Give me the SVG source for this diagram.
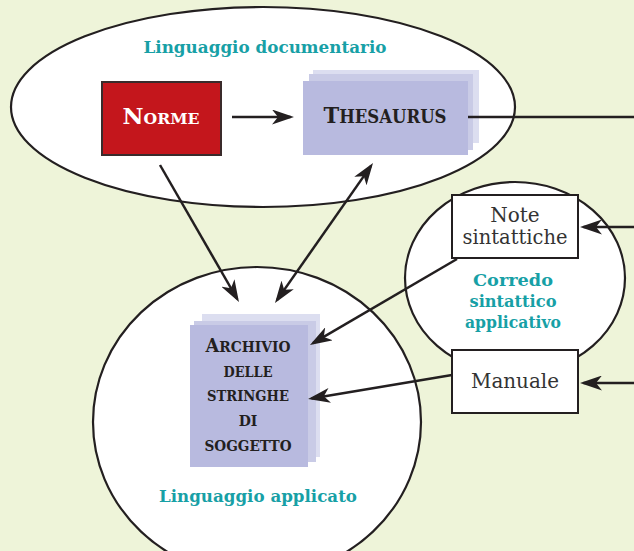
<svg xmlns="http://www.w3.org/2000/svg" width="634" height="551" viewBox="0 0 634 551">
<style>
.ell{fill:#ffffff;stroke:#231f20;stroke-width:2.2}
.lbl{font-family:"DejaVu Serif","Liberation Serif",serif;font-weight:bold;fill:#17a0a6;text-anchor:middle}
.cap{font-family:"DejaVu Serif","Liberation Serif",serif;font-weight:bold;fill:#231f20;text-anchor:middle}
.reg{font-family:"DejaVu Serif","Liberation Serif",serif;font-size:20px;fill:#333333;text-anchor:middle}
.box{fill:#ffffff;stroke:#231f20;stroke-width:2}
.l1{fill:#dcdef0}.l2{fill:#c9cbe6}.l3{fill:#b8badf}
.con{fill:none;stroke:#231f20;stroke-width:2.5}
</style>
<defs>
<marker id="ah" viewBox="0 0 22 15" refX="18.5" refY="7.5" markerWidth="22" markerHeight="15" markerUnits="userSpaceOnUse" orient="auto-start-reverse">
<path d="M0,0 L22,7.5 L0,15 L6,7.5 z" fill="#231f20"/>
</marker>
</defs>
<rect x="0" y="0" width="634" height="551" fill="#eef4d9"/>

<g id="linguaggio-documentario">
<ellipse class="ell" cx="263" cy="107" rx="252" ry="100"/>
<text class="lbl" x="265" y="53" font-size="17" textLength="243" lengthAdjust="spacingAndGlyphs">Linguaggio documentario</text>
</g>

<g id="linguaggio-applicato">
<ellipse class="ell" cx="257" cy="422" rx="164" ry="155"/>
<text class="lbl" x="258" y="502" font-size="17" textLength="198" lengthAdjust="spacingAndGlyphs">Linguaggio applicato</text>
</g>

<g id="corredo-sintattico">
<ellipse class="ell" cx="515" cy="278" rx="110" ry="96"/>
<text class="lbl" x="513" y="286" font-size="17" textLength="80" lengthAdjust="spacingAndGlyphs">Corredo</text>
<text class="lbl" x="513" y="307" font-size="17" textLength="87" lengthAdjust="spacingAndGlyphs">sintattico</text>
<text class="lbl" x="513" y="328" font-size="17" textLength="96" lengthAdjust="spacingAndGlyphs">applicativo</text>
</g>

<g id="norme">
<rect x="102" y="82" width="119" height="73" fill="#c4161c" stroke="#3a2b2b" stroke-width="2"/>
<text class="cap" x="161" y="124" style="fill:#ffffff" textLength="77" lengthAdjust="spacingAndGlyphs"><tspan font-size="22">N</tspan><tspan font-size="15">ORME</tspan></text>
</g>

<g id="thesaurus">
<rect class="l1" x="313" y="70" width="166" height="73"/>
<rect class="l2" x="309" y="74" width="164" height="76"/>
<rect class="l3" x="303" y="81" width="165" height="74"/>
<text class="cap" x="385" y="123" textLength="123" lengthAdjust="spacingAndGlyphs"><tspan font-size="23">T</tspan><tspan font-size="18">HESAURUS</tspan></text>
</g>

<g id="archivio">
<rect class="l1" x="202" y="314" width="118" height="143"/>
<rect class="l2" x="194" y="321" width="122" height="141"/>
<rect class="l3" x="190" y="325" width="118" height="142"/>
<text class="cap" x="248" y="352" textLength="85" lengthAdjust="spacingAndGlyphs"><tspan font-size="18">A</tspan><tspan font-size="14">RCHIVIO</tspan></text>
<text class="cap" x="248" y="377" font-size="14" textLength="49" lengthAdjust="spacingAndGlyphs">DELLE</text>
<text class="cap" x="248" y="401" font-size="14" textLength="82" lengthAdjust="spacingAndGlyphs">STRINGHE</text>
<text class="cap" x="248" y="426" font-size="14">DI</text>
<text class="cap" x="248" y="451" font-size="14" textLength="87" lengthAdjust="spacingAndGlyphs">SOGGETTO</text>
</g>

<g id="note-sintattiche">
<rect class="box" x="452" y="195" width="126" height="63"/>
<text class="reg" x="515" y="222">Note</text>
<text class="reg" x="515" y="244" textLength="105" lengthAdjust="spacingAndGlyphs">sintattiche</text>
</g>

<g id="manuale">
<rect class="box" x="452" y="350" width="126" height="63"/>
<text class="reg" x="515" y="388" textLength="88" lengthAdjust="spacingAndGlyphs">Manuale</text>
</g>

<g id="connectors">
<line class="con" x1="232" y1="117" x2="290.5" y2="117" marker-end="url(#ah)"/>
<line class="con" x1="468" y1="117" x2="634" y2="117"/>
<line class="con" x1="160" y1="165" x2="237.2" y2="299" marker-end="url(#ah)"/>
<line class="con" x1="277" y1="300.1" x2="371" y2="165.9" marker-start="url(#ah)" marker-end="url(#ah)"/>
<line class="con" x1="457" y1="259" x2="313" y2="343.2" marker-end="url(#ah)"/>
<line class="con" x1="452" y1="375" x2="311.5" y2="398.4" marker-end="url(#ah)"/>
<line class="con" x1="634" y1="227" x2="583.5" y2="227" marker-end="url(#ah)"/>
<line class="con" x1="634" y1="383" x2="583.5" y2="383" marker-end="url(#ah)"/>
</g>
</svg>
